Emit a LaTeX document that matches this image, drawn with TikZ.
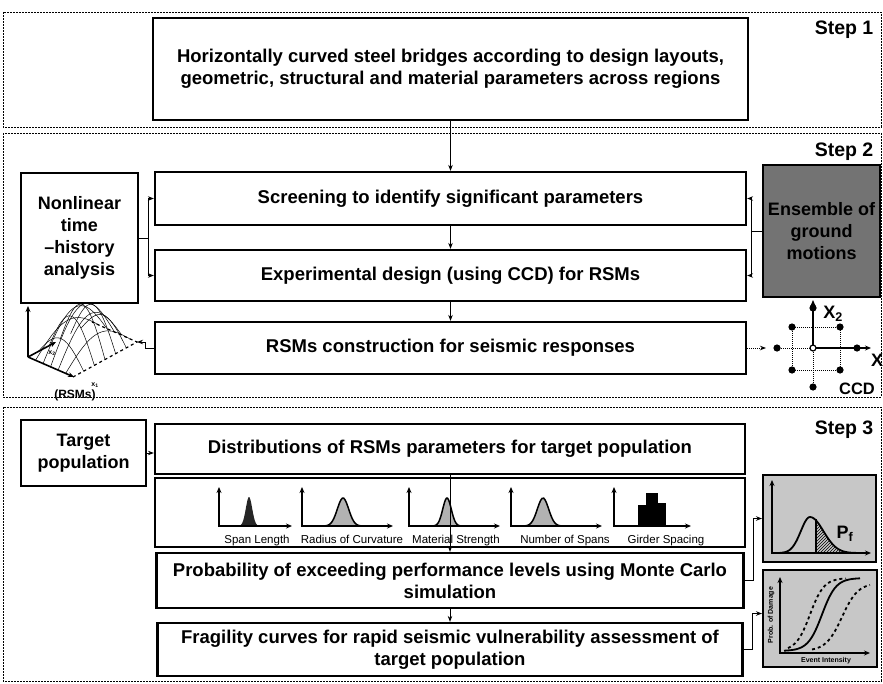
\documentclass[tikz,border=0pt]{standalone}
\usepackage{fontspec}
\setmainfont{Liberation Sans}
\usetikzlibrary{arrows.meta,patterns}

\newcommand{\boxtext}{\fontsize{18.5}{22}\selectfont\bfseries}
\newcommand{\sidetext}{\fontsize{18}{22}\selectfont\bfseries}
\newcommand{\steptext}{\fontsize{19.5}{22}\selectfont\bfseries}
\newcommand{\plottext}{\fontsize{11.5}{13}\selectfont}
\newcommand{\tinytext}{\fontsize{7}{8}\selectfont\bfseries}

\tikzset{
  stepframe/.style={draw, line width=0.9pt, dash pattern=on 2pt off 1pt},
  flowbox/.style={draw, line width=2.2pt, align=center, font=\boxtext, minimum width=591pt, inner sep=0pt},
  sidebox/.style={draw, line width=2.2pt, align=center, font=\sidetext, inner sep=0pt},
  plotbox/.style={draw, line width=2pt, fill=black!22, inner sep=0pt},
  link/.style={line width=1pt, -{Stealth[length=6pt,width=4.5pt]}},
  axes/.style={line width=1.5pt, {Stealth[length=6pt,width=5pt]}-{Stealth[length=6pt,width=5pt]}},
  axisarrow/.style={line width=1.6pt, -{Stealth[length=6pt,width=5pt]}},
  curvefill/.style={draw, line width=1.5pt, fill=black!30},
  paramlabel/.style={font=\plottext, anchor=base, inner sep=0pt},
  ccdpoint/.style={fill=black}
}

\begin{document}
\begin{tikzpicture}[x=1pt, y=-1pt]
\useasboundingbox (0,0) rectangle (883,683);

% step frames
\draw[stepframe] (3,12) rectangle (881,127);
\draw[stepframe] (3,133) rectangle (881,397);
\draw[stepframe] (3,407) rectangle (881,681);
\node[font=\steptext] (step1) at (844,30) {Step 1};
\node[font=\steptext] (step2) at (844,152) {Step 2};
\node[font=\steptext] (step3) at (844,430) {Step 3};

% step 1
\node[flowbox, minimum width=595pt, minimum height=102pt] (bridges) at (450.5,69)
  {Horizontally curved steel bridges according to design layouts,\\geometric, structural and material parameters across regions};

% step 2
\node[flowbox, minimum height=53pt] (screen) at (450.5,198.5) {Screening to identify significant parameters};
\node[flowbox, minimum height=51pt] (design) at (450.5,275.5) {Experimental design (using CCD) for RSMs};
\node[flowbox, minimum height=52pt] (rsmbuild) at (450.5,348) {RSMs construction for seismic responses};
\node[sidebox, minimum width=117pt, minimum height=130pt] (nlth) at (79.5,238) {Nonlinear\\time\\–history\\analysis};
\node[sidebox, fill=black!55, minimum width=117pt, minimum height=132pt] (motions) at (821.5,231) {Ensemble of\\ground\\motions};

\draw[link] (bridges) -- (screen);
\draw[link] (screen) -- (design);
\draw[link] (design) -- (rsmbuild);
\draw[line width=1pt] (nlth.east) -- ++(9,0) coordinate (nlsplit);
\draw[link] (nlsplit) |- (screen.west);
\draw[link] (nlsplit) |- (design.west);
\draw[line width=1pt] (motions.west) -- ++(-10,0) coordinate (gmsplit);
\draw[link] (gmsplit) |- (screen.east);
\draw[link] (gmsplit) |- (design.east);

% response surface sketch
\foreach \i in {1,...,5} {
  \draw[line width=0.5pt] plot[domain=0:1, samples=20] ({28+7.5*\i+64*\x}, {357+3.333*\i-35*\x-45*sin(30*\i)*sin(180*\x)});
  \draw[line width=0.5pt] plot[domain=0:1, samples=20] ({28+45*\x+10.667*\i}, {357+20*\x-5.833*\i-45*sin(180*\x)*sin(30*\i)});
}
\draw[line width=1.2pt, dashed] (73,377) -- (137,342) -- (92,322);
\draw[axisarrow] (28,357) -- (28,306);
\draw[axisarrow] (28,357) -- (56,342);
\draw[axisarrow] (28,357) -- (74,377);
\node[font=\tinytext] (x2lab) at (52,353) {x\textsubscript{2}};
\node[font=\tinytext] (x1lab) at (95,385) {x\textsubscript{1}};
\node[font=\fontsize{12}{14}\selectfont\bfseries] (rsmlab) at (75,395) {(RSMs)};
\coordinate (surfin) at (137,342);
\draw[link] (rsmbuild.west) -- ++(-8,0) |- (surfin);

% central composite design
\draw[densely dotted, line width=1pt] (792,327) rectangle (840,370);
\draw[densely dotted, line width=1pt] (777,348) -- (813,348) -- (813,387);
\draw[axisarrow] (813,348) -- (871,348);
\draw[axisarrow] (813,348) -- (813,300);
\foreach \px/\py in {792/327, 840/327, 792/370, 840/370, 777/348, 857/348, 813/308, 813/387}
  \fill[ccdpoint] (\px,\py) circle (3.6pt);
\draw[line width=1.2pt, fill=white] (813,348) circle (3pt);
\node[font=\sidetext] (x2ccd) at (833,314) {X\textsubscript{2}};
\node[font=\sidetext] (x1ccd) at (877,360) {X};
\node[font=\fontsize{16.5}{18}\selectfont\bfseries] (ccdlab) at (857,389) {CCD};
\coordinate (ccdin) at (766,348);
\draw[link, densely dotted] (rsmbuild.east) -- (ccdin);

% step 3
\node[sidebox, minimum width=125pt, minimum height=66pt] (target) at (83.5,453) {Target\\population};
\node[flowbox, minimum width=590pt, minimum height=50pt] (distrib) at (450,449) {Distributions of RSMs parameters for target population};
\node[draw, line width=2.2pt, minimum width=590pt, minimum height=69pt] (panel) at (450,512.5) {};
\node[flowbox, minimum width=587pt, minimum height=55pt] (prob) at (450,580.5) {Probability of exceeding performance levels using Monte Carlo\\simulation};
\node[flowbox, minimum width=585pt, minimum height=53pt] (fragil) at (450,649.5) {Fragility curves for rapid seismic vulnerability assessment of\\target population};

% parameter distributions
\fill[black!85] plot[domain=238:260, samples=30] (\x,{526-29*exp(-((\x-249)/4.5)^2)}) -- cycle;
\draw[curvefill] plot[domain=322:364, samples=30] (\x,{526-28*exp(-((\x-343)/8)^2)}) -- cycle;
\draw[curvefill] plot[domain=432:462, samples=30] (\x,{526-28*exp(-((\x-447)/6)^2)}) -- cycle;
\draw[curvefill] plot[domain=524:568, samples=30] (\x,{526-28*exp(-((\x-543)/8)^2)}) -- cycle;
\fill[black] (638,526) rectangle (646,505);
\fill[black] (646,526) rectangle (658,493);
\fill[black] (658,526) rectangle (666,503);
\foreach \ax/\tip in {219/292, 302/393, 409/500, 511/602, 614/691}
  \draw[axes] (\ax,487) -- (\ax,526) -- (\tip,526);
\node[paramlabel] (spanlab) at (257,543) {Span Length};
\node[paramlabel] (radiuslab) at (352,543) {Radius of Curvature};
\node[paramlabel] (matlab) at (456,543) {Material Strength};
\node[paramlabel] (spanslab) at (565,543) {Number of Spans};
\node[paramlabel] (girderlab) at (666,543) {Girder Spacing};

\draw[link] (target.east) -- (target.east -| distrib.west);
\draw[link] (distrib) -- (prob);
\draw[link] (prob) -- (fragil);

% exceedance probability plot
\node[plotbox, minimum width=113pt, minimum height=87pt] (pfplot) at (819.5,518.5) {};
\fill[pattern=north east lines] (816,553) -- plot[domain=816:858, samples=30] (\x,{553-36*exp(-((\x-810)/19)^2)}) -- (858,553) -- cycle;
\draw[line width=1.8pt] plot[domain=780:810, samples=30] (\x,{553-36*exp(-((\x-810)/13)^2)});
\draw[line width=1.8pt] plot[domain=810:860, samples=30] (\x,{553-36*exp(-((\x-810)/19)^2)});
\draw[line width=1.2pt] (816,553) -- (816,519);
\draw[axes] (772,480) -- (772,553) -- (871,553);
\node[font=\sidetext] (pflab) at (845,534) {P\textsubscript{f}};
\draw[link] (prob.east) -- ++(9,0) |- (pfplot.west);

% fragility curves plot
\node[plotbox, minimum width=114pt, minimum height=97pt] (fcplot) at (820,618.5) {};
\draw[line width=1.8pt] plot[domain=784:860, samples=40] (\x,{651-73/(1+exp(-(\x-822)/7))});
\draw[line width=1.8pt, dashed] plot[domain=788:846, samples=40] (\x,{651-73/(1+exp(-(\x-810)/7))});
\draw[line width=1.8pt, dashed] plot[domain=812:870, samples=40] (\x,{651-68/(1+exp(-(\x-842)/8))});
\draw[axes] (780,577) -- (780,653) -- (870,653);
\node[font=\tinytext, rotate=90] (damagelab) at (771,615) {Prob. of Damage};
\node[font=\tinytext] (intenslab) at (826,661) {Event Intensity};
\draw[link] (fragil.east) -- ++(9,0) |- ([yshift=5pt]fcplot.west);
\end{tikzpicture}
\end{document}
